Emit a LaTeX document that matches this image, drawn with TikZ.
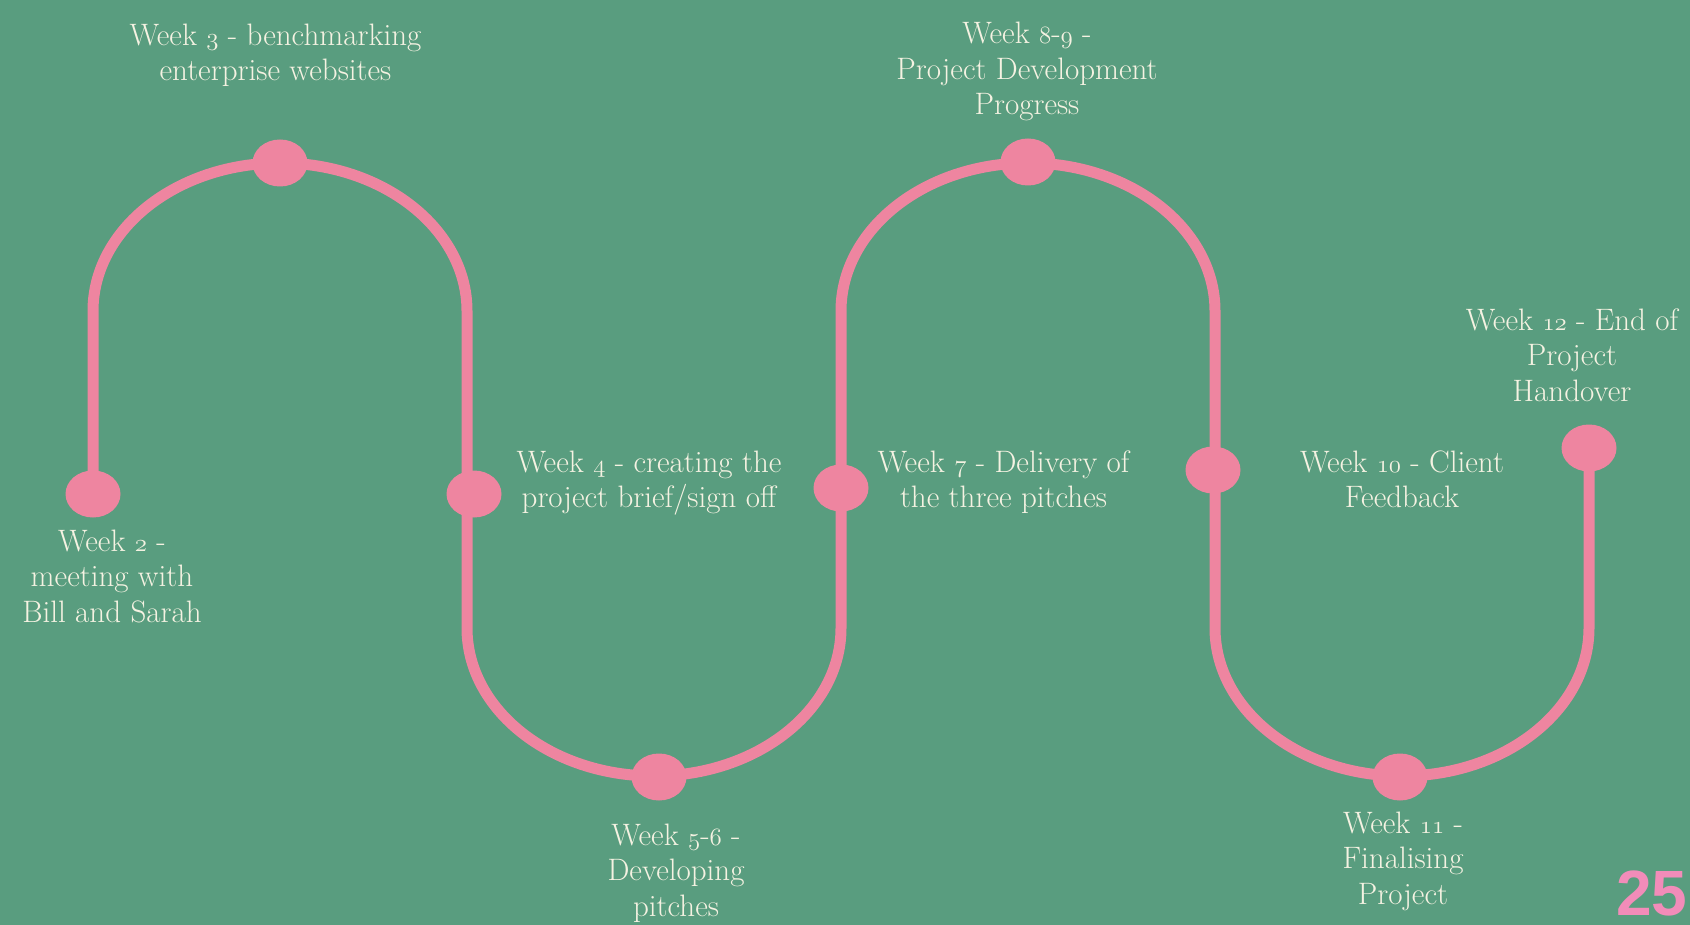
\documentclass[tikz,border=0pt]{standalone}
\usepackage{fontspec}
\newfontfamily\numfont{Liberation Sans}
\usetikzlibrary{shapes.geometric}
\definecolor{bggreen}{RGB}{89,157,127}
\definecolor{trackpink}{RGB}{238,133,160}
\definecolor{numpink}{RGB}{242,140,185}
\definecolor{labeltext}{RGB}{245,242,226}
\newcommand\osn[1]{{\fontencoding{OML}\fontfamily{lmm}\fontseries{m}\fontshape{it}\selectfont #1}}
\pgfdeclarelayer{bg}
\pgfdeclarelayer{trk}
\pgfsetlayers{bg,trk,main}
\begin{document}
\begin{tikzpicture}[x=1pt,y=-1pt,
  dot/.style={ellipse,fill=trackpink,minimum width=55pt,minimum height=47pt,inner sep=0pt},
  track/.style={draw=trackpink,line width=11pt},
  lbl/.style={anchor=north,inner sep=0pt,align=center,text=labeltext,font=\fontsize{31}{35.5}\selectfont}]
\useasboundingbox (0,0) rectangle (1690,925);
\begin{pgfonlayer}{bg}
\fill[bggreen] (0,0) rectangle (1690,925);
\end{pgfonlayer}

% milestone dots
\node[dot] (d2)  at (93,494) {};
\node[dot] (d3)  at (280,163) {};
\node[dot] (d4)  at (474,494) {};
\node[dot] (d56) at (659,777) {};
\node[dot] (d7)  at (841,488) {};
\node[dot] (d89) at (1028,162) {};
\node[dot] (d10) at (1213,470) {};
\node[dot] (d11) at (1400,777) {};
\node[dot] (d12) at (1589,448) {};

% winding track
\begin{pgfonlayer}{trk}
\draw[track] (d2.center) -- (93,311)
  arc[start angle=180,end angle=0,x radius=187pt,y radius=148pt] -- (467,628)
  arc[start angle=180,end angle=360,x radius=187pt,y radius=148pt] -- (841,311)
  arc[start angle=180,end angle=0,x radius=187pt,y radius=148pt] -- (1215,628)
  arc[start angle=180,end angle=360,x radius=187pt,y radius=148pt] -- (d12.center);
\end{pgfonlayer}

% labels
\node[lbl] (t3)  at (275.5,23.5) {Week \osn{3} - benchmarking\\enterprise websites};
\node[lbl] (t89) at (1027,21.8) {Week \osn{8}-\osn{9} -\\Project Development\\Progress};
\node[lbl] (t2)  at (112,529.5) {Week \osn{2} -\\meeting with\\Bill and Sarah};
\node[lbl] (t4)  at (649,450.5) {Week \osn{4} - creating the\\project brief/sign off};
\node[lbl] (t7)  at (1003.5,450.5) {Week \osn{7} - Delivery of\\the three pitches};
\node[lbl] (t10) at (1402,450.5) {Week \osn{10} - Client\\Feedback};
\node[lbl] (t12) at (1572,308.5) {Week \osn{12} - End of\\Project\\Handover};
\node[lbl] (t56) at (676,823.5) {Week \osn{5}-\osn{6} -\\Developing\\pitches};
\node[lbl] (t11) at (1403,811.5) {Week \osn{11} -\\Finalising\\Project};

% page number
\node[anchor=base west,inner sep=0pt,text=numpink,font=\numfont\bfseries\fontsize{64}{64}\selectfont] (pg) at (1616,915) {25};
\end{tikzpicture}
\end{document}
